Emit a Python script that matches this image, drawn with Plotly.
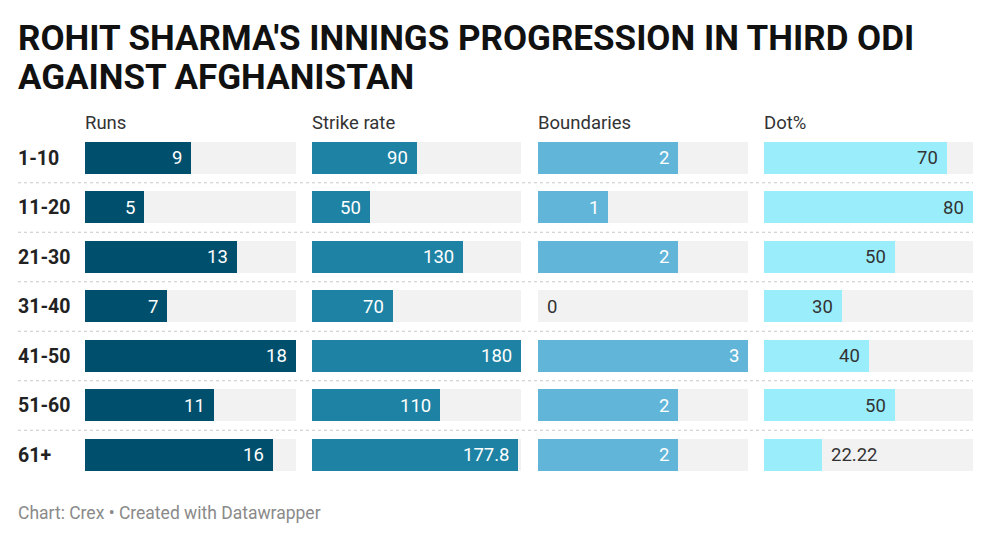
import plotly.graph_objects as go

overs = ["1-10", "11-20", "21-30", "31-40", "41-50", "51-60", "61+"]
runs = [9, 5, 13, 7, 18, 11, 16]
strike_rate = [90, 50, 130, 70, 180, 110, 177.8]
boundaries = [2, 1, 2, 0, 3, 2, 2]
dot_pct = [70, 80, 50, 30, 40, 50, 22.22]
value_labels = {
    "Runs": ["9", "5", "13", "7", "18", "11", "16"],
    "Strike rate": ["90", "50", "130", "70", "180", "110", "177.8"],
    "Boundaries": ["2", "1", "2", "0", "3", "2", "2"],
    "Dot%": ["70", "80", "50", "30", "40", "50", "22.22"],
}
title_lines = ["ROHIT SHARMA'S INNINGS PROGRESSION IN THIRD ODI", "AGAINST AFGHANISTAN"]
footer = "Chart: Crex • Created with Datawrapper"

W, H = 991, 540
FONT = "Roboto"

columns = [
    ("Runs", runs, "#004f6d", "white", (85, 296)),
    ("Strike rate", strike_rate, "#1d82a3", "white", (312, 521)),
    ("Boundaries", boundaries, "#61b5d9", "white", (538, 748)),
    ("Dot%", dot_pct, "#9aeefc", "#333333", (764, 973)),
]

fig = go.Figure()
annotations = []
shapes = []

for i, (name, vals, color, txtcol, (x0, x1)) in enumerate(columns):
    ax = "x" if i == 0 else f"x{i+1}"
    axkey = "xaxis" if i == 0 else f"xaxis{i+1}"
    vmax = max(vals)
    fig.add_trace(go.Bar(
        y=overs, x=[vmax] * len(overs), orientation="h",
        marker=dict(color="#f2f2f2", line=dict(width=0)),
        width=0.65, xaxis=ax, yaxis="y", hoverinfo="skip", showlegend=False))
    fig.add_trace(go.Bar(
        y=overs, x=vals, orientation="h",
        marker=dict(color=color, line=dict(width=0)),
        width=0.65, xaxis=ax, yaxis="y", showlegend=False, name=name))
    fig.layout[axkey] = dict(
        domain=[x0 / W, x1 / W], range=[0, vmax], visible=False,
        fixedrange=True, anchor="y")
    pxw = x1 - x0
    for cat, v, lab in zip(overs, vals, value_labels[name]):
        barpx = v / vmax * pxw
        inside = len(lab) * 9 + 20 <= barpx
        annotations.append(dict(
            x=v, y=cat, xref=ax, yref="y", text=lab, showarrow=False,
            xanchor="right" if inside else "left",
            xshift=-7 if inside else 7,
            font=dict(family=FONT, size=18.5,
                      color=txtcol if inside else "#333333")))
    annotations.append(dict(
        x=x0 / W, y=1 - 123 / H, xref="paper", yref="paper", text=name,
        showarrow=False, xanchor="left", yanchor="middle", xshift=-2,
        font=dict(family=FONT, size=18.5, color="#333333")))

for cat in overs:
    annotations.append(dict(
        x=18 / W, y=cat, xref="paper", yref="y", text=f"<b>{cat}</b>",
        showarrow=False, xanchor="left", xshift=-2,
        font=dict(family=FONT, size=19.5, color="#222222")))

for k in range(len(overs) - 1):
    shapes.append(dict(
        type="line", xref="paper", yref="y", x0=18 / W, x1=973 / W,
        y0=k + 0.5, y1=k + 0.5,
        line=dict(color="#c8c8c8", width=1, dash="dot")))

for line, yc in zip(title_lines, [38, 78]):
    annotations.append(dict(
        x=18 / W, y=1 - yc / H, xref="paper", yref="paper",
        text=f"<b>{line}</b>", showarrow=False, xanchor="left",
        yanchor="middle", align="left", xshift=-2,
        font=dict(family=FONT, size=35, color="#111111")))

annotations.append(dict(
    x=18 / W, y=1 - 513 / H, xref="paper", yref="paper",
    text=footer, showarrow=False, xanchor="left", yanchor="middle", xshift=-2,
    font=dict(family=FONT, size=17.5, color="#8a8a8a")))

top = 158 - 24.75
bot = 455 + 24.75
fig.update_layout(
    width=W, height=H, margin=dict(l=0, r=0, t=0, b=0),
    paper_bgcolor="white", plot_bgcolor="white",
    barmode="overlay", bargap=0,
    yaxis=dict(domain=[1 - bot / H, 1 - top / H], categoryorder="array",
               categoryarray=overs, autorange="reversed", visible=False,
               fixedrange=True),
    annotations=annotations, shapes=shapes,
)

fig.write_html("out.html", config={"displayModeBar": False})
